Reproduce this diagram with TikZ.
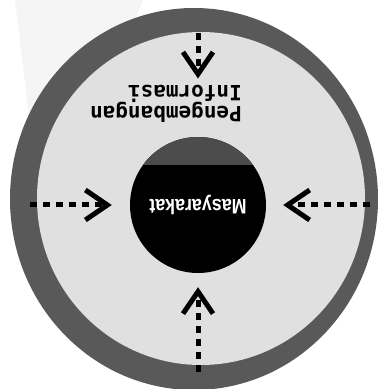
\documentclass[tikz,border=0pt]{standalone}
\usepackage{fontspec}
\usepackage{graphicx}
\usetikzlibrary{arrows.meta}
\newfontfamily\hubfont{Liberation Sans}
\newfontfamily\infofont{DejaVu Sans Mono}

\tikzset{
  flow/.style={line width=5pt, dash pattern=on 7pt off 6pt,
    -{Straight Barb[length=22pt, width=30pt, line width=5pt]}},
  hub/.style={circle, fill=black, minimum size=136pt, inner sep=0pt, text=white,
    path picture={\fill[black!70] ([yshift=-28pt]path picture bounding box.north west)
      rectangle (path picture bounding box.north east);}},
}

\begin{document}
\begin{tikzpicture}[x=1pt, y=1pt]
  \useasboundingbox (0,0) rectangle (379,389);
  % faint wedge behind the ring
  \fill[black!4] (15,389) -- (143,389) -- (45,139) -- cycle;
  % ring and field
  \fill[black!65] (194,190) ellipse [x radius=184, y radius=191];
  \fill[black!12] (201,190.5) ellipse [x radius=164, y radius=166.5];

  \node[hub] (m) at (198,184) {\rotatebox{180}{\scalebox{0.85}[1]{%
    \hubfont\bfseries\fontsize{21}{21}\selectfont Masyarakat}}};
  \node[inner sep=0pt] (info) at (166,287) {\rotatebox{180}{%
    \infofont\bfseries\fontsize{21}{14}\selectfont
    \begin{tabular}{@{}l@{}}Pengembangan\\\noalign{\vskip-1pt}Informasi\end{tabular}}};

  \coordinate (sB) at (198,17);
  \coordinate (sL) at (30,184);
  \coordinate (sR) at (370,184);
  \coordinate (sT) at (198,356);
  \foreach \s/\e/\d in {sB/m.south/14, sL/m.west/18, sR/m.east/17,
      sT/{sT |- info.north}/3}
    \draw[flow, shorten >=\d pt] (\s) -- (\e);
\end{tikzpicture}
\end{document}
